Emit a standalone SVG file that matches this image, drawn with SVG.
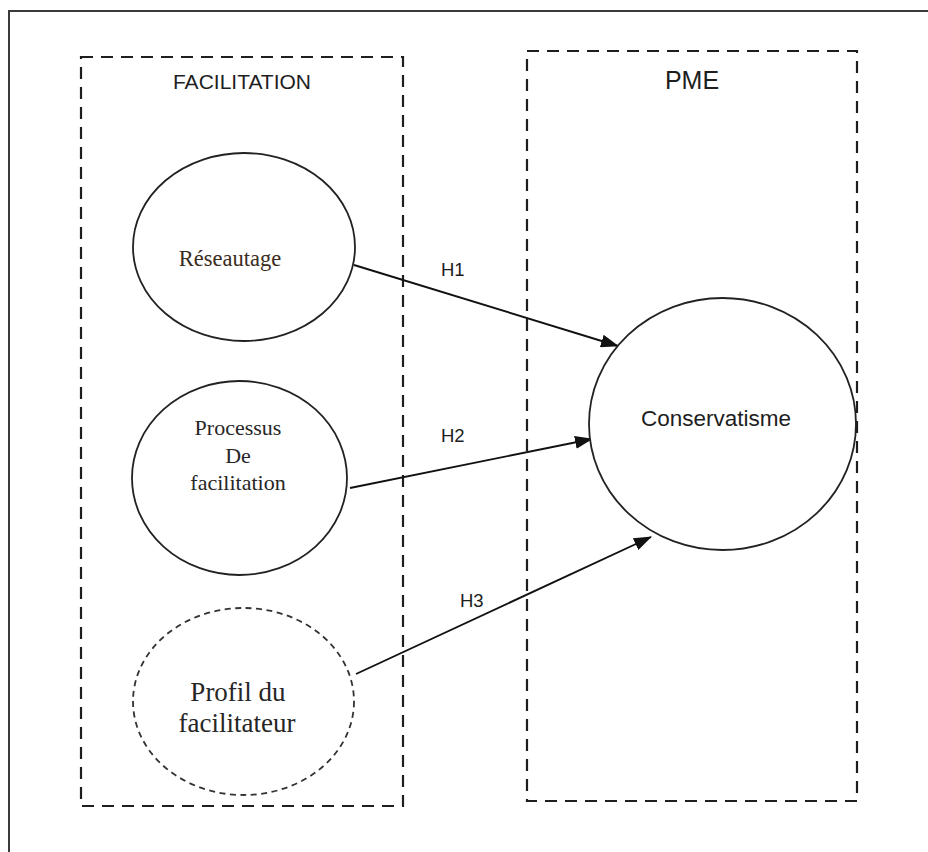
<svg xmlns="http://www.w3.org/2000/svg" width="928" height="852" viewBox="0 0 928 852">
  <defs>
    <marker id="arrow" viewBox="0 0 18 13" refX="17" refY="6.5" markerWidth="18" markerHeight="13" markerUnits="userSpaceOnUse" orient="auto">
      <path d="M0,0 L18,6.5 L0,13 Z" fill="#111"/>
    </marker>
    <style>
      .frame { stroke: #3a3a3a; stroke-width: 2; fill: none; }
      .box { fill: none; stroke: #1e1e1e; stroke-width: 2.2; stroke-dasharray: 12 8; }
      .node { fill: #fff; stroke: #222; stroke-width: 1.8; }
      .node-dashed { fill: #fff; stroke: #333; stroke-width: 1.8; stroke-dasharray: 6 4.5; }
      .conn { stroke: #111; stroke-width: 1.9; fill: none; marker-end: url(#arrow); }
      .sans { font-family: "Liberation Sans", Arial, sans-serif; fill: #1e1e1e; }
      .serif { font-family: "Liberation Serif", "Times New Roman", serif; fill: #262626; text-anchor: middle; }
    </style>
  </defs>
  <rect width="928" height="852" fill="#fff"/>

  <g id="frame">
    <path class="frame" d="M9,852 L9,11 L928,11"/>
  </g>

  <g id="facilitation-group">
    <rect class="box" x="81" y="57" width="322" height="749"/>
    <text class="sans" x="242" y="89" font-size="21" text-anchor="middle">FACILITATION</text>
  </g>

  <g id="pme-group">
    <rect class="box" x="527" y="51" width="330" height="750"/>
    <text class="sans" x="692" y="89" font-size="25" text-anchor="middle">PME</text>
  </g>

  <g id="connectors">
    <line class="conn" x1="354" y1="265" x2="618" y2="346"/>
    <line class="conn" x1="350" y1="488" x2="592" y2="439"/>
    <line class="conn" x1="356" y1="674" x2="651" y2="537"/>
    <text class="sans" x="441" y="276" font-size="18.5">H1</text>
    <text class="sans" x="441" y="442" font-size="18.5">H2</text>
    <text class="sans" x="460" y="607" font-size="18.5">H3</text>
  </g>

  <g id="node-reseautage">
    <ellipse class="node" cx="244" cy="247" rx="111" ry="94"/>
    <text class="serif" x="230" y="266" font-size="22.5" style="fill:#3a2c20">Réseautage</text>
  </g>

  <g id="node-processus">
    <ellipse class="node" cx="239.5" cy="478" rx="107.5" ry="97"/>
    <text class="serif" x="238" y="435" font-size="22">Processus</text>
    <text class="serif" x="238" y="463" font-size="22">De</text>
    <text class="serif" x="238" y="490" font-size="22">facilitation</text>
  </g>

  <g id="node-profil">
    <ellipse class="node-dashed" cx="243.5" cy="701.5" rx="110.5" ry="93.5"/>
    <text class="serif" x="238" y="701" font-size="27">Profil du</text>
    <text class="serif" x="237" y="732" font-size="27">facilitateur</text>
  </g>

  <g id="node-conservatisme">
    <ellipse class="node" cx="722.5" cy="424" rx="133.5" ry="126"/>
    <text class="sans" x="716" y="426" font-size="22.5" text-anchor="middle">Conservatisme</text>
  </g>
</svg>
